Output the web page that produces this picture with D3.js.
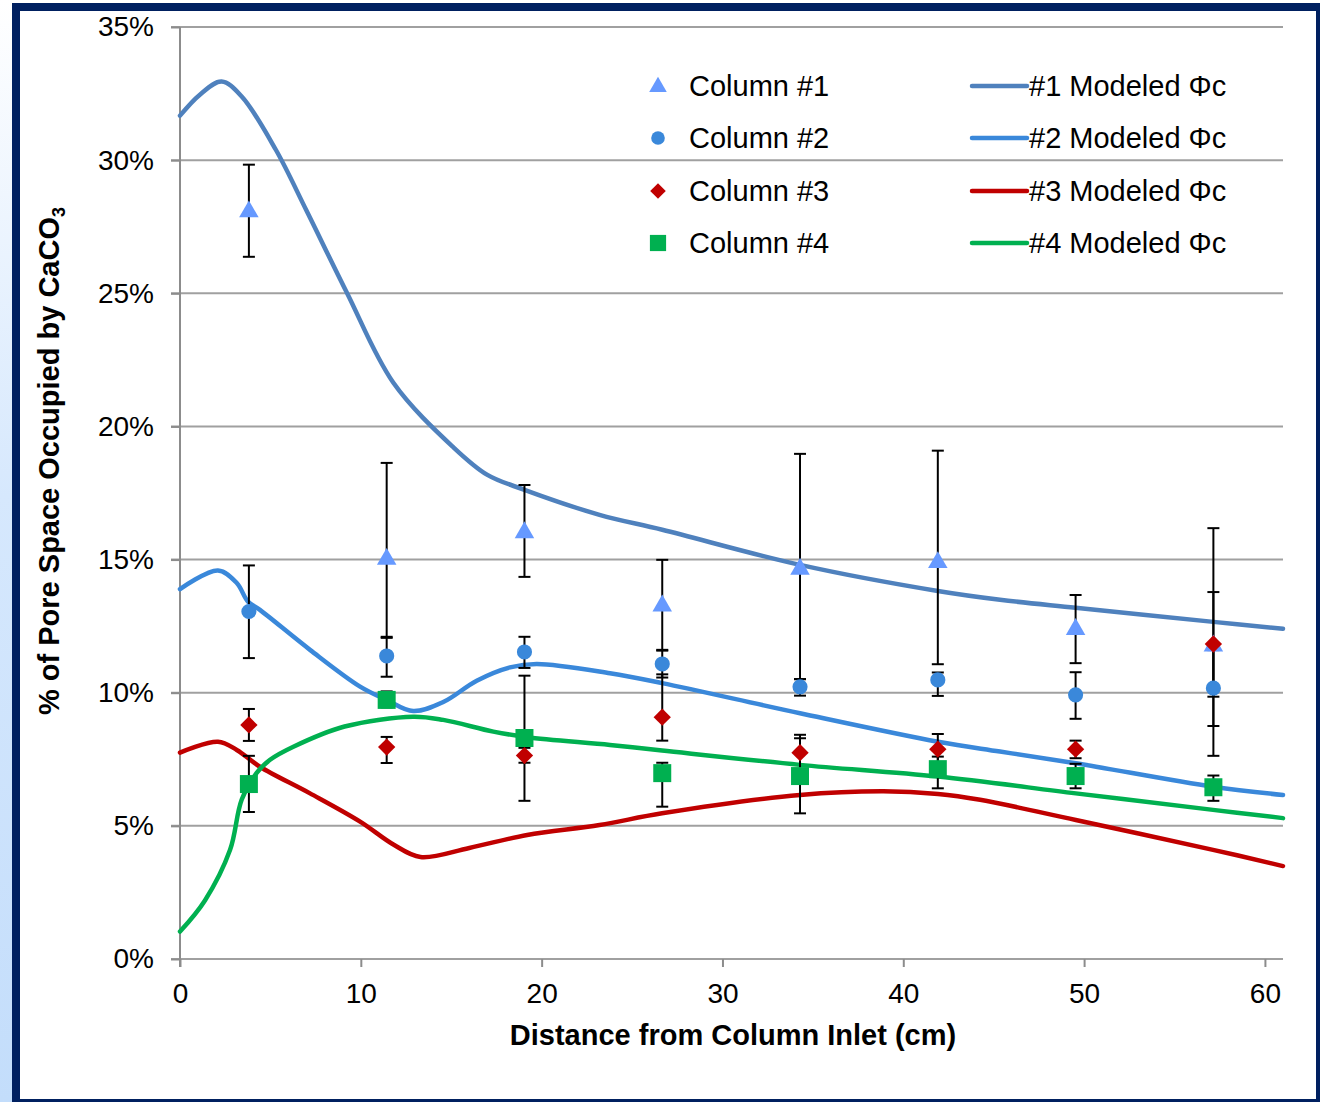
<!DOCTYPE html>
<html>
<head>
<meta charset="utf-8">
<script src="https://cdn.jsdelivr.net/npm/d3@7"></script>
<style>
  body { margin: 0; background: #fff; }
  svg { display: block; font-family: "Liberation Sans", Arial, sans-serif; }
</style>
</head>
<body>
<svg id="chart" width="1320" height="1102"></svg>
<script>
// measured sample positions (cm)
var sampleX = [3.81, 11.43, 19.05, 26.67, 34.29, 41.91, 49.53, 57.15];

// measured % of pore space, with error bar ends
var col1 = [28.1, 15.05, 16.05, 13.3, 14.68, 14.93, 12.42, 11.8];
var col1Lo = [26.37, 12.06, 14.35, 11.58, 10.51, 11.07, 11.11, 7.63];
var col1Hi = [29.83, 18.63, 17.8, 14.99, 18.97, 19.09, 13.67, 16.18];

var col2 = [13.05, 11.38, 11.53, 11.08, 10.22, 10.48, 9.92, 10.17];
var col2Lo = [11.3, 10.6, 10.93, 10.57, 9.89, 9.88, 9.02, 8.75];
var col2Hi = [14.78, 12.1, 12.1, 11.61, 10.51, 10.76, 10.77, 11.6];

var col3 = [8.79, 7.96, 7.64, 9.08, 7.75, 7.88, 7.88, 11.83];
var col3Lo = [8.19, 7.36, 7.37, 8.2, 7.1, 7.3, 7.54, 9.85];
var col3Hi = [9.39, 8.34, 7.93, 10.69, 8.42, 8.45, 8.2, 13.78];

var col4 = [6.57, 9.73, 8.3, 6.98, 6.87, 7.13, 6.87, 6.45];
var col4Lo = [5.52, 9.45, 5.94, 5.72, 5.47, 6.41, 6.41, 5.94];
var col4Hi = [7.63, 10.05, 10.64, 7.37, 8.29, 7.6, 7.33, 6.89];

// modeled curves
var m1x = [0, 1.1, 2.3, 3.4, 5.3, 7.0, 9.23, 11.8, 15.1, 17, 19.05, 23.2, 26.67, 34.29, 41.91, 45.35, 49.53, 57.15, 61];
var m1y = [31.67, 32.46, 32.95, 32.4, 30.39, 28.1, 25.02, 21.64, 19.23, 18.18, 17.62, 16.68, 16.12, 14.8, 13.82, 13.49, 13.19, 12.66, 12.4];

var m2x = [0, 2.1, 3.14, 3.76, 4.42, 7.19, 9.96, 11.43, 12.9, 14.56, 16.41, 18.25, 19.73, 23.78, 26.66, 34.29, 41.92, 45.35, 49.54, 57.13, 61];
var m2y = [13.89, 14.59, 14.12, 13.42, 13.11, 11.61, 10.23, 9.73, 9.31, 9.65, 10.45, 10.95, 11.08, 10.73, 10.36, 9.23, 8.16, 7.79, 7.35, 6.47, 6.16];

var m3x = [0, 2.1, 3.14, 4.42, 7.19, 9.96, 11.8, 13.3, 16.0, 19.2, 23.2, 26.66, 34.29, 38.9, 41.92, 44.25, 49.54, 57.13, 61];
var m3y = [7.75, 8.16, 7.85, 7.22, 6.22, 5.16, 4.3, 3.83, 4.17, 4.66, 5.03, 5.47, 6.16, 6.3, 6.2, 5.98, 5.22, 4.1, 3.49];

var m4x = [0, 1.38, 2.77, 3.41, 4.24, 4.98, 6.27, 9.1, 12.9, 14.56, 17.33, 19.2, 23.78, 26.66, 34.29, 41.92, 49.54, 57.13, 61];
var m4y = [1.03, 2.2, 4.1, 5.98, 6.99, 7.48, 7.97, 8.73, 9.1, 8.98, 8.54, 8.33, 8.04, 7.83, 7.29, 6.85, 6.22, 5.6, 5.29];

var xTicks = [0, 10, 20, 30, 40, 50, 60];
var yTicks = [0, 5, 10, 15, 20, 25, 30, 35];

var markerNames = ["Column #1", "Column #2", "Column #3", "Column #4"];
var lineNames = ["#1 Modeled \u03A6c", "#2 Modeled \u03A6c", "#3 Modeled \u03A6c", "#4 Modeled \u03A6c"];

var svg = d3.select("#chart");

// frame
var grad = svg.append("defs").append("linearGradient")
    .attr("id", "strip").attr("x1", 0).attr("y1", 0).attr("x2", 0).attr("y2", 1);
grad.append("stop").attr("offset", "0%").attr("stop-color", "#ffffff");
grad.append("stop").attr("offset", "45%").attr("stop-color", "#d6e8fd");
grad.append("stop").attr("offset", "100%").attr("stop-color", "#c3ddfb");
svg.append("rect").attr("x", 0).attr("y", 0).attr("width", 12).attr("height", 1102).attr("fill", "url(#strip)");
svg.append("rect").attr("x", 12).attr("y", 3).attr("width", 1308).attr("height", 1099).attr("fill", "#002060");
svg.append("rect").attr("x", 20).attr("y", 11).attr("width", 1296).attr("height", 1088).attr("fill", "#ffffff");

var x = d3.scaleLinear().domain([0, 61]).range([180, 1283]);
var y = d3.scaleLinear().domain([0, 35]).range([959, 27]);

// gridlines
svg.append("g").selectAll("line")
    .data(yTicks)
    .enter().append("line")
    .attr("x1", 171).attr("x2", 1283)
    .attr("y1", function(d) { return y(d); })
    .attr("y2", function(d) { return y(d); })
    .attr("stroke", "#a0a0a0")
    .attr("stroke-width", 2);

var yAxis = svg.append("g")
    .attr("transform", "translate(180,0)")
    .call(d3.axisLeft(y).tickValues(yTicks).tickSize(9).tickSizeOuter(0).tickPadding(17)
      .tickFormat(function(d) { return d + "%"; }));
yAxis.select(".domain").remove();
yAxis.selectAll(".tick line").attr("stroke", "#8c8c8c").attr("stroke-width", 2);
yAxis.selectAll("text").attr("font-size", 28).attr("fill", "#000").attr("font-family", "Liberation Sans, Arial, sans-serif");

svg.append("line")
    .attr("x1", 180).attr("x2", 180).attr("y1", 27).attr("y2", 967)
    .attr("stroke", "#8c8c8c").attr("stroke-width", 2);

var xAxis = svg.append("g")
    .attr("transform", "translate(0,959)")
    .call(d3.axisBottom(x).tickValues(xTicks).tickSize(8).tickSizeOuter(0).tickPadding(16));
xAxis.select(".domain").remove();
xAxis.selectAll(".tick line").attr("stroke", "#8c8c8c").attr("stroke-width", 2);
xAxis.selectAll("text").attr("font-size", 28).attr("fill", "#000").attr("font-family", "Liberation Sans, Arial, sans-serif");

// axis titles
svg.append("text")
    .attr("x", 733).attr("y", 1045)
    .attr("text-anchor", "middle")
    .attr("font-size", 29).attr("font-weight", "bold")
    .text("Distance from Column Inlet (cm)");

var yTitle = svg.append("text")
    .attr("transform", "translate(59,461) rotate(-90)")
    .attr("text-anchor", "middle")
    .attr("font-size", 29).attr("font-weight", "bold");
yTitle.append("tspan").text("% of Pore Space Occupied by CaCO");
yTitle.append("tspan").attr("font-size", 18).attr("dy", 6).text("3");

// model lines
var modelSets = [
  { xs: m1x, ys: m1y, color: "#4f81bd" },
  { xs: m2x, ys: m2y, color: "#3a88da" },
  { xs: m3x, ys: m3y, color: "#c00000" },
  { xs: m4x, ys: m4y, color: "#00b050" }
];

var line = d3.line()
    .x(function(d) { return x(d[0]); })
    .y(function(d) { return y(d[1]); })
    .curve(d3.curveCatmullRom.alpha(0.5));

svg.append("g").selectAll("path")
    .data(modelSets)
    .enter().append("path")
    .attr("d", function(m) { return line(d3.zip(m.xs, m.ys)); })
    .attr("fill", "none")
    .attr("stroke", function(m) { return m.color; })
    .attr("stroke-width", 4.5)
    .attr("stroke-linecap", "round");

// measured columns
var colSets = [
  { v: col1, lo: col1Lo, hi: col1Hi, color: "#6699ff", sym: "tri" },
  { v: col2, lo: col2Lo, hi: col2Hi, color: "#3a88da", sym: "circle" },
  { v: col3, lo: col3Lo, hi: col3Hi, color: "#c00000", sym: "diamond" },
  { v: col4, lo: col4Lo, hi: col4Hi, color: "#00b050", sym: "square" }
];

function markerPath(sym, s) {
  if (sym == "tri") return d3.symbol().type(d3.symbolTriangle).size(165 * s * s)();
  if (sym == "circle") return d3.symbol().type(d3.symbolCircle).size(180 * s * s)();
  if (sym == "diamond") return d3.symbol().type(d3.symbolSquare).size(150 * s * s)();
  return d3.symbol().type(d3.symbolSquare).size(324 * s * s)();
}

function markerTransform(sym, px, py) {
  if (sym == "diamond") return "translate(" + px + "," + py + ") rotate(45)";
  if (sym == "tri") return "translate(" + px + "," + (py + 1) + ")";
  return "translate(" + px + "," + py + ")";
}

var errG = svg.append("g").attr("stroke", "#000").attr("stroke-width", 2);
colSets.forEach(function(c) {
  for (var i = 0; i < sampleX.length; i++) {
    var px = x(sampleX[i]);
    errG.append("line").attr("x1", px).attr("x2", px)
        .attr("y1", y(c.lo[i])).attr("y2", y(c.hi[i]));
    errG.append("line").attr("x1", px - 6).attr("x2", px + 6)
        .attr("y1", y(c.lo[i])).attr("y2", y(c.lo[i]));
    errG.append("line").attr("x1", px - 6).attr("x2", px + 6)
        .attr("y1", y(c.hi[i])).attr("y2", y(c.hi[i]));
  }
});

colSets.forEach(function(c) {
  svg.append("g").selectAll("path")
      .data(c.v)
      .enter().append("path")
      .attr("d", markerPath(c.sym, 1))
      .attr("transform", function(d, i) { return markerTransform(c.sym, x(sampleX[i]), y(d)); })
      .attr("fill", c.color);
});

// legend
var legY = [86, 138, 191, 243];
var leg = svg.append("g");
colSets.forEach(function(c, i) {
  leg.append("path")
      .attr("d", markerPath(c.sym, 0.9))
      .attr("transform", markerTransform(c.sym, 658, legY[i]))
      .attr("fill", c.color);
  leg.append("text")
      .attr("x", 689).attr("y", legY[i] + 10)
      .attr("font-size", 29)
      .text(markerNames[i]);
  leg.append("line")
      .attr("x1", 972).attr("x2", 1027)
      .attr("y1", legY[i]).attr("y2", legY[i])
      .attr("stroke", modelSets[i].color)
      .attr("stroke-width", 4.5)
      .attr("stroke-linecap", "round");
  leg.append("text")
      .attr("x", 1029).attr("y", legY[i] + 10)
      .attr("font-size", 29)
      .text(lineNames[i]);
});
</script>
</body>
</html>
